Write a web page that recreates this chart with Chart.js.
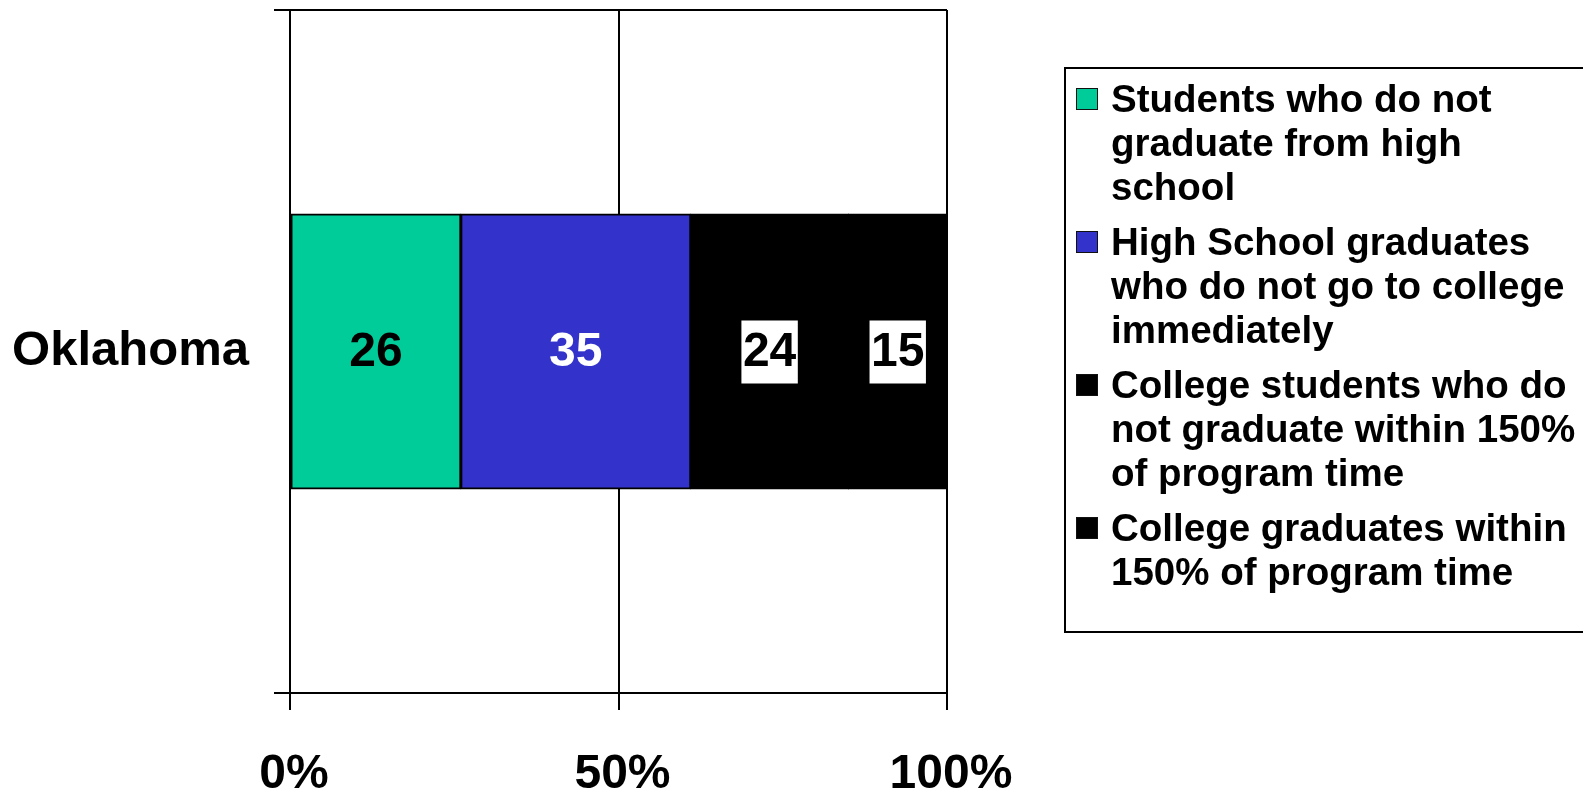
<!DOCTYPE html>
<html>
<head>
<meta charset="utf-8">
<script src="https://cdn.jsdelivr.net/npm/chart.js@4.4.1/dist/chart.umd.min.js"></script>
<style>
  html, body { margin: 0; padding: 0; background: #fff; overflow: hidden; }
  #wrap { position: relative; width: 1583px; height: 789px; }
  #chart { position: absolute; left: 0; top: 0; }
  #legend {
    position: absolute; left: 1064px; top: 67px; width: 620px; height: 566px;
    border: 2px solid #000; box-sizing: border-box; padding-top: 8px;
    font: bold 38.5px "Liberation Sans", Arial, sans-serif; line-height: 44px; color: #000;
  }
  #legend .item { position: relative; padding-left: 45px; margin-bottom: 11px; }
  #legend .swatch {
    position: absolute; left: 10px; top: 11px; width: 20px; height: 20px;
    border: 1.5px solid #111;
  }
</style>
</head>
<body>
<div id="wrap">
  <canvas id="chart" width="1583" height="789"></canvas>
  <div id="legend"></div>
</div>
<script>
// categories and series (percent of students)
const categories = ["Oklahoma"];
const noHighSchool = [26];
const hsNoCollege = [35];
const collegeNoGrad = [24];
const collegeGrad = [15];
const xTickValues = [0, 50, 100];

const seriesNames = [
  ["Students who do not", "graduate from high", "school"],
  ["High School graduates", "who do not go to college", "immediately"],
  ["College students who do", "not graduate within 150%", "of program time"],
  ["College graduates within", "150% of program time"]
];
const seriesColors = ["#00CC99", "#3333CC", "#000000", "#000000"];
const labelColors = ["#000000", "#ffffff", "#000000", "#000000"];
const labelBoxed = [false, false, true, true];

const FONT = '"Liberation Sans", Arial, sans-serif';

// value labels in the middle of each segment
const segmentLabels = {
  id: "segmentLabels",
  afterDatasetsDraw(chart) {
    const ctx = chart.ctx;
    ctx.save();
    ctx.font = "bold 48px " + FONT;
    ctx.textAlign = "center";
    ctx.textBaseline = "middle";
    chart.data.datasets.forEach((ds, i) => {
      chart.getDatasetMeta(i).data.forEach((bar, j) => {
        const text = String(ds.data[j]);
        const cx = (bar.x + bar.base) / 2;
        const cy = bar.y;
        if (labelBoxed[i]) {
          const w = ctx.measureText(text).width + 3;
          ctx.fillStyle = "#ffffff";
          ctx.fillRect(cx - w / 2, cy - 31, w, 63);
        }
        ctx.fillStyle = labelColors[i];
        ctx.fillText(text, cx, cy + 1);
      });
    });
    ctx.restore();
  }
};

const datasets = [noHighSchool, hsNoCollege, collegeNoGrad, collegeGrad].map((vals, i) => ({
  label: seriesNames[i],
  data: vals,
  backgroundColor: seriesColors[i],
  borderColor: "#000000",
  borderWidth: 2,
  borderSkipped: false,
  inflateAmount: 0.5,
  barPercentage: 0.403,
  categoryPercentage: 1
}));

const chart = new Chart(document.getElementById("chart").getContext("2d"), {
  type: "bar",
  data: { labels: categories, datasets: datasets },
  options: {
    indexAxis: "y",
    responsive: false,
    animation: false,
    layout: { padding: { top: 10, right: 636, left: 0, bottom: 0 } },
    plugins: { legend: { display: false }, tooltip: { enabled: false } },
    scales: {
      x: {
        stacked: true,
        min: 0,
        max: 100,
        afterBuildTicks: (axis) => { axis.ticks = xTickValues.map(v => ({ value: v })); },
        afterFit: (axis) => { axis.height = 96; },
        ticks: {
          callback: (v) => v + "%",
          color: "#000",
          font: { family: FONT, size: 48, weight: "bold" },
          padding: 36,
          labelOffset: 4,
          maxRotation: 0
        },
        grid: { color: "#000", lineWidth: 2, tickLength: 17 },
        border: { color: "#000", width: 2 }
      },
      y: {
        stacked: true,
        afterFit: (axis) => {
          axis.width = 290;
          axis.paddingTop = 0;
          axis.paddingBottom = 0;
        },
        ticks: {
          color: "#000",
          font: { family: FONT, size: 49, weight: "bold" },
          padding: 25
        },
        grid: { color: "#000", lineWidth: 2, tickLength: 16, offset: true },
        border: { color: "#000", width: 2 }
      }
    }
  },
  plugins: [segmentLabels]
});

// boxed legend on the right, one entry per series
const legendEl = document.getElementById("legend");
chart.data.datasets.forEach((ds) => {
  const item = document.createElement("div");
  item.className = "item";
  const sw = document.createElement("span");
  sw.className = "swatch";
  sw.style.background = ds.backgroundColor;
  item.appendChild(sw);
  ds.label.forEach((line, k) => {
    if (k > 0) item.appendChild(document.createElement("br"));
    item.appendChild(document.createTextNode(line));
  });
  legendEl.appendChild(item);
});
</script>
</body>
</html>
